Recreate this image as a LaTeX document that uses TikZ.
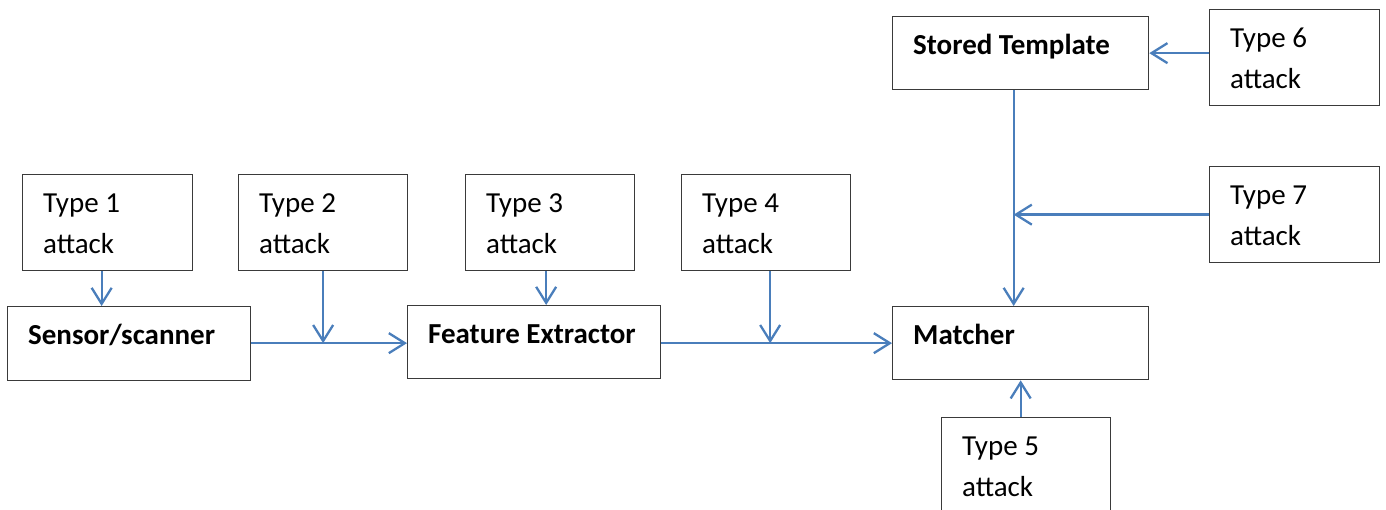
\documentclass[tikz,border=0pt]{standalone}
\usepackage{fontspec}
\setmainfont{Carlito}
\usetikzlibrary{arrows.meta,calc}
\definecolor{arrblue}{HTML}{4A7EBB}
\definecolor{boxline}{HTML}{3A3A3A}
\newcommand{\bxt}[3]{\begin{minipage}[t][#2][t]{#1}\fontsize{29pt}{41pt}\selectfont\raggedright\leftskip=20.5pt\rule{0pt}{38pt}#3\end{minipage}}
\tikzset{
  bx/.style={draw=boxline, line width=1.3pt, inner sep=0pt, anchor=north west, fill=white},
  arr/.style={draw=arrblue, line width=2.3pt, -{Straight Barb[length=16pt,width=20pt,line width=2.3pt]}}
}
\begin{document}
\begin{tikzpicture}[x=1pt,y=-1pt]
\useasboundingbox (0,0) rectangle (1386,510);
% boxes
\node[bx] (t1) at (22,174) {\bxt{170pt}{96pt}{Type 1\\attack}};
\node[bx] (t2) at (238,174) {\bxt{169pt}{96pt}{Type 2\\attack}};
\node[bx] (t3) at (465,174) {\bxt{169pt}{96pt}{Type 3\\attack}};
\node[bx] (t4) at (681,174) {\bxt{169pt}{96pt}{Type 4\\attack}};
\node[bx] (sensor) at (7,306) {\bxt{243pt}{74pt}{\bfseries Sensor/scanner}};
\node[bx] (fe) at (407,305) {\bxt{253pt}{73pt}{\bfseries Feature Extractor}};
\node[bx] (match) at (892,306) {\bxt{256pt}{73pt}{\bfseries Matcher}};
\node[bx] (st) at (892,16) {\bxt{256pt}{73pt}{\bfseries Stored Template}};
\node[bx] (t6) at (1209,9) {\bxt{170pt}{96pt}{Type 6\\attack}};
\node[bx] (t7) at (1209,166) {\bxt{170pt}{96pt}{Type 7\\attack}};
\node[bx] (t5) at (941,417) {\bxt{169pt}{96pt}{Type 5\\attack}};
% connectors
\coordinate (row) at (match.west);
\draw[arr] ([xshift=-6pt]t1.south) -- ([xshift=-6pt]t1.south |- sensor.north);
\draw[arr] (t2.south) -- (t2.south |- row);
\draw[arr] (sensor.east |- row) -- (fe.west |- row);
\draw[arr] ([xshift=-4pt]t3.south) -- ([xshift=-4pt]t3.south |- fe.north);
\draw[arr] ([xshift=4pt]t4.south) -- ([xshift=4pt]t4.south |- row);
\draw[arr] (fe.east |- row) -- (match.west);
\coordinate (sx) at ([xshift=-7pt]st.south);
\draw[arr] (sx) -- (sx |- match.north);
\draw[arr] (t6.west |- st.east) -- (st.east);
\draw[arr] (t7.west) -- (t7.west -| sx);
\draw[arr] (t5.north -| match.south) -- (match.south);
\end{tikzpicture}
\end{document}
